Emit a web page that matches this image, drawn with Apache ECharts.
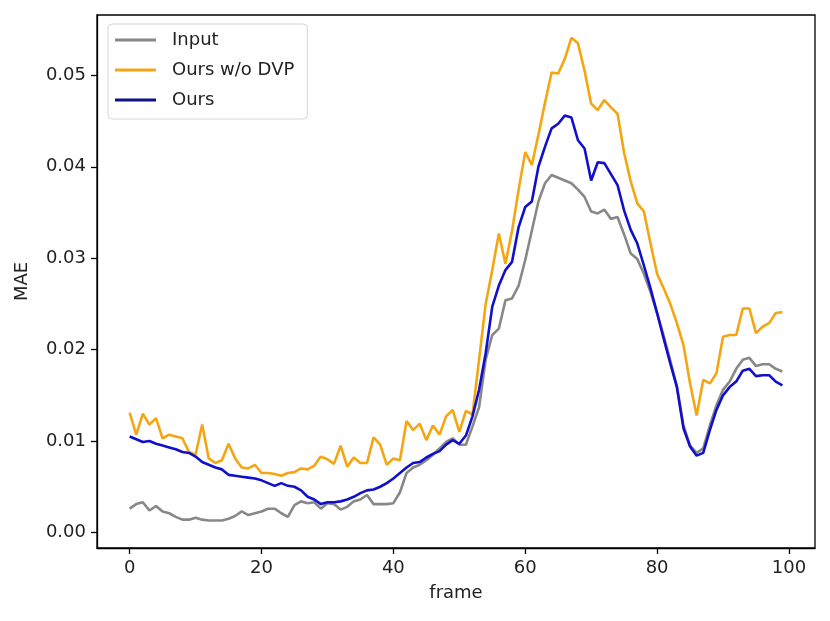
<!DOCTYPE html>
<html>
<head>
<meta charset="utf-8">
<script src="https://cdn.jsdelivr.net/npm/echarts@6/dist/echarts.min.js"></script>
<style>
  html, body { margin: 0; padding: 0; background: #fff; }
  #chart { width: 830px; height: 621px; }
</style>
</head>
<body>
<div id="chart"></div>
<script>
// frame index 0..99
const frames = Array.from({ length: 100 }, (_, i) => i);

const xTicks = [0, 20, 40, 60, 80, 100];
const yTicks = [0, 0.01, 0.02, 0.03, 0.04, 0.05];

// MAE per frame
const inputMae = [
  0.0026, 0.0031, 0.0033, 0.0024, 0.0029, 0.0023, 0.0021, 0.0017, 0.0014, 0.0014,
  0.0016, 0.0014, 0.0013, 0.0013, 0.0013, 0.0015, 0.0018, 0.0023, 0.0019, 0.0021,
  0.0023, 0.0026, 0.0026, 0.0021, 0.0017, 0.0030, 0.0034, 0.0032, 0.0033, 0.0026,
  0.0032, 0.0031, 0.0025, 0.0028, 0.0034, 0.0036, 0.0041, 0.0031, 0.0031, 0.0031,
  0.0032, 0.0044, 0.0065, 0.0071, 0.0074, 0.0079, 0.0085, 0.0092, 0.0099, 0.0103,
  0.0096, 0.0096, 0.0116, 0.0137, 0.0189, 0.0216, 0.0223, 0.0254, 0.0256, 0.0270,
  0.0298, 0.0330, 0.0362, 0.0382, 0.0391, 0.0388, 0.0385, 0.0382, 0.0375, 0.0367,
  0.0351, 0.0349, 0.0353, 0.0343, 0.0345, 0.0326, 0.0305, 0.0299, 0.0283, 0.0263,
  0.0240, 0.0215, 0.0188, 0.0160, 0.0117, 0.0095, 0.0087, 0.0092, 0.0117, 0.0139,
  0.0156, 0.0165, 0.0179, 0.0189, 0.0191, 0.0182, 0.0184, 0.0184, 0.0179, 0.0176
];

const noDvpMae = [
  0.0131, 0.0107, 0.0130, 0.0118, 0.0125, 0.0103, 0.0107, 0.0105, 0.0103, 0.0088,
  0.0085, 0.0118, 0.0081, 0.0076, 0.0079, 0.0097, 0.0081, 0.0071, 0.0070, 0.0074,
  0.0065, 0.0065, 0.0064, 0.0062, 0.0065, 0.0066, 0.0070, 0.0069, 0.0073, 0.0083,
  0.0080, 0.0075, 0.0095, 0.0072, 0.0082, 0.0076, 0.0076, 0.0104, 0.0096, 0.0074,
  0.0081, 0.0079, 0.0122, 0.0112, 0.0119, 0.0101, 0.0117, 0.0107, 0.0127, 0.0134,
  0.0110, 0.0133, 0.0129, 0.0189, 0.0250, 0.0287, 0.0327, 0.0294, 0.0330, 0.0375,
  0.0416, 0.0402, 0.0435, 0.0470, 0.0503, 0.0502, 0.0518, 0.0541, 0.0535, 0.0505,
  0.0469, 0.0462, 0.0473, 0.0465, 0.0458, 0.0415, 0.0384, 0.0360, 0.0351, 0.0316,
  0.0283, 0.0267, 0.0250, 0.0229, 0.0205, 0.0163, 0.0128, 0.0167, 0.0163, 0.0174,
  0.0214, 0.0216, 0.0216, 0.0245, 0.0245, 0.0218, 0.0225, 0.0229, 0.0240, 0.0241
];

const oursMae = [
  0.0105, 0.0102, 0.0099, 0.0100, 0.0097, 0.0095, 0.0093, 0.0091, 0.0088, 0.0087,
  0.0083, 0.0077, 0.0074, 0.0071, 0.0069, 0.0063, 0.0062, 0.0061, 0.0060, 0.0059,
  0.0057, 0.0054, 0.0051, 0.0054, 0.0051, 0.0050, 0.0046, 0.0039, 0.0036, 0.0031,
  0.0033, 0.0033, 0.0034, 0.0036, 0.0039, 0.0043, 0.0046, 0.0047, 0.0050, 0.0054,
  0.0059, 0.0065, 0.0071, 0.0076, 0.0077, 0.0082, 0.0086, 0.0089, 0.0096, 0.0101,
  0.0097, 0.0106, 0.0127, 0.0156, 0.0196, 0.0247, 0.0270, 0.0287, 0.0296, 0.0334,
  0.0356, 0.0362, 0.0400, 0.0422, 0.0442, 0.0447, 0.0456, 0.0454, 0.0429, 0.0420,
  0.0385, 0.0405, 0.0404, 0.0392, 0.0380, 0.0352, 0.0331, 0.0316, 0.0292, 0.0267,
  0.0240, 0.0212, 0.0185, 0.0159, 0.0114, 0.0094, 0.0084, 0.0087, 0.0112, 0.0134,
  0.0150, 0.0159, 0.0165, 0.0177, 0.0179, 0.0171, 0.0172, 0.0172, 0.0165, 0.0161
];

const pair = (ys) => frames.map((f, i) => [f, ys[i]]);

const chart = echarts.init(document.getElementById("chart"), null, { renderer: "canvas" });

const font = "DejaVu Sans";

const lineSeries = (name, ys, color) => ({
  name: name,
  type: "line",
  data: pair(ys),
  showSymbol: false,
  symbol: "none",
  animation: false,
  lineStyle: { color: color, width: 2.6 },
  itemStyle: { color: color },
});

const option = {
  backgroundColor: "#fff",
  grid: {
    left: 97, right: 15, top: 15, bottom: 73,
    show: true, borderColor: "#000", borderWidth: 1.3, backgroundColor: "transparent",
  },
  legend: {
    orient: "vertical",
    left: 108, top: 24,
    icon: "rect",
    itemWidth: 41, itemHeight: 3,
    itemGap: 10,
    padding: [6, 13, 9, 7],
    borderColor: "#d6d6d6", borderWidth: 1, borderRadius: 4,
    backgroundColor: "rgba(255,255,255,0.85)",
    textStyle: { fontFamily: font, fontSize: 18, color: "#222", lineHeight: 20, padding: [0, 0, 0, 11] },
    data: [
      { name: "Input" },
      { name: "Ours w/o DVP" },
      { name: "Ours", itemStyle: { color: "#10108a" } },
    ],
  },
  xAxis: {
    type: "value",
    min: -4.95, max: 103.95,
    name: "frame",
    nameLocation: "middle",
    nameGap: 36,
    nameTextStyle: { fontFamily: font, fontSize: 18, color: "#222" },
    axisLine: { show: true, onZero: false, lineStyle: { color: "#000", width: 1.3 } },
    axisTick: { show: true, inside: false, length: 6, lineStyle: { color: "#000", width: 1.3 }, customValues: xTicks },
    axisLabel: { fontFamily: font, fontSize: 18, color: "#222", margin: 11, customValues: xTicks, formatter: (v) => String(Math.round(v)) },
    splitLine: { show: false },
  },
  yAxis: {
    type: "value",
    min: -0.0017, max: 0.0566,
    name: "MAE",
    nameLocation: "middle",
    nameRotate: 90,
    nameGap: 66,
    nameTextStyle: { fontFamily: font, fontSize: 18, color: "#222" },
    axisLine: { show: true, onZero: false, lineStyle: { color: "#000", width: 1.3 } },
    axisTick: { show: true, inside: false, length: 6, lineStyle: { color: "#000", width: 1.3 }, customValues: yTicks },
    axisLabel: { fontFamily: font, fontSize: 18, color: "#222", margin: 11, customValues: yTicks, formatter: (v) => v.toFixed(2) },
    splitLine: { show: false },
  },
  series: [
    lineSeries("Input", inputMae, "#888888"),
    lineSeries("Ours w/o DVP", noDvpMae, "#f5a512"),
    lineSeries("Ours", oursMae, "#1010cc"),
  ],
};

chart.setOption(option);
</script>
</body>
</html>
